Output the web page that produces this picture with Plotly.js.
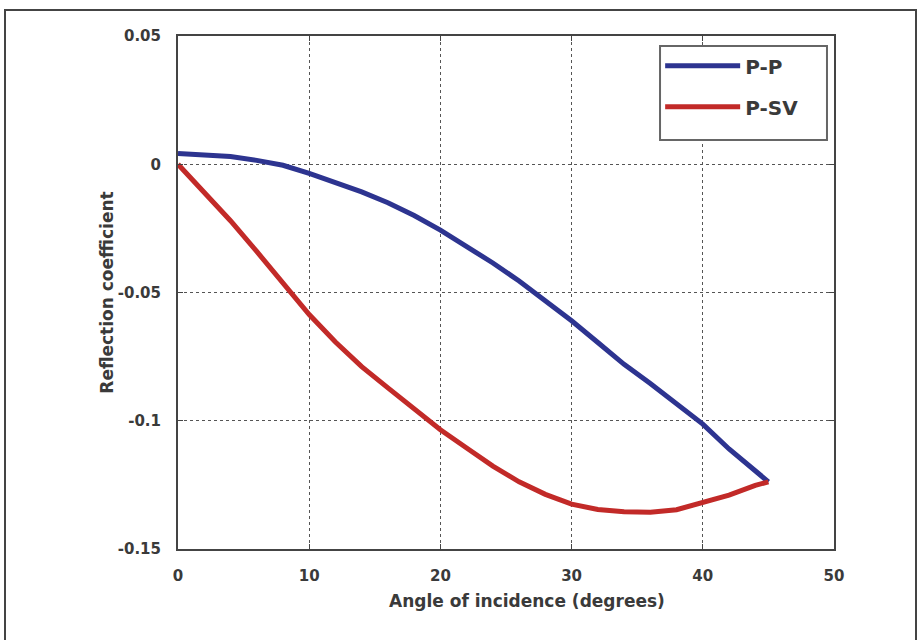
<!DOCTYPE html>
<html>
<head>
<meta charset="utf-8">
<script src="https://cdn.plot.ly/plotly-3.0.1.min.js"></script>
<style>
html,body{margin:0;padding:0;background:#fff;}
#wrap{position:relative;width:919px;height:640px;overflow:hidden;}
#chart{position:absolute;left:0;top:0;width:919px;height:640px;}
#frame{position:absolute;left:4px;top:9px;width:909px;height:700px;border:2px solid #444;pointer-events:none;}
</style>
</head>
<body>
<div id="wrap"><div id="chart"></div><div id="frame"></div></div>
<script>
// Angle of incidence (degrees)
const angles = [0, 2, 4, 6, 8, 10, 12, 14, 16, 18, 20, 22, 24, 26, 28, 30, 32, 34, 36, 38, 40, 42, 44, 45];
// P-P reflection coefficient
const ppValues = [0.0042, 0.0038, 0.003, 0.0015, -0.0004, -0.0036, -0.0072, -0.0108, -0.015, -0.02, -0.0257, -0.032, -0.0385, -0.0455, -0.053, -0.061, -0.0695, -0.078, -0.0855, -0.0933, -0.1013, -0.111, -0.1195, -0.1238];
// P-SV reflection coefficient
const psvValues = [0, -0.011, -0.022, -0.034, -0.0465, -0.0586, -0.0693, -0.0789, -0.0872, -0.0953, -0.1035, -0.1106, -0.1177, -0.1238, -0.1287, -0.1325, -0.1346, -0.1355, -0.1357, -0.1347, -0.132, -0.129, -0.1252, -0.1238];
const seriesNames = ["P-P", "P-SV"];
const xTickVals = [0, 10, 20, 30, 40, 50];
const xTickText = ["0", "10", "20", "30", "40", "50"];
const yTickVals = [0.05, 0, -0.05, -0.1, -0.15];
const yTickText = ["0.05", "0", "-0.05", "-0.1", "-0.15"];
const xTitle = 'Angle of incidence (degrees)';
const yTitle = 'Reflection coefficient';

const traces = [
  {x: angles, y: ppValues, name: seriesNames[0], type: 'scatter', mode: 'lines',
   line: {color: '#2d3490', width: 5}, legendgroup: 'a'},
  {x: angles, y: psvValues, name: seriesNames[1], type: 'scatter', mode: 'lines',
   line: {color: '#c22a28', width: 5}, legendgroup: 'b'}
];

const fam = 'DejaVu Sans, Verdana, sans-serif';
const tickFont = {family: fam, size: 15, color: '#3a3a3a', weight: 'bold'};
const titleFont = {family: fam, size: 17, color: '#3a3a3a', weight: 'bold'};

const layout = {
  width: 919, height: 640,
  margin: {l: 178, r: 85, t: 36, b: 91, pad: 0},
  paper_bgcolor: '#ffffff', plot_bgcolor: '#ffffff',
  showlegend: true,
  legend: {
    x: 0.735, y: 0.98, xanchor: 'left', yanchor: 'top',
    bgcolor: 'rgba(0,0,0,0)', borderwidth: 0,
    font: {family: fam, size: 20, color: '#3a3a3a', weight: 'bold'},
    traceorder: 'grouped', tracegroupgap: 12, itemwidth: 75, entrywidth: 167
  },
  shapes: [
    {type: 'rect', xref: 'paper', yref: 'paper', x0: 0.7348, x1: 0.9893, y0: 0.7973, y1: 0.9805,
     line: {color: '#666', width: 2}, fillcolor: '#ffffff', layer: 'above'}
  ],
  xaxis: {
    range: [0, 50], tickvals: xTickVals, ticktext: xTickText,
    showgrid: true, gridcolor: '#555', griddash: 'dot', gridwidth: 1.2,
    zeroline: false, showline: true, linecolor: '#444', linewidth: 2, mirror: 'ticks',
    ticks: 'inside', ticklen: 5, tickcolor: '#444', tickfont: tickFont, ticklabelstandoff: 12
  },
  yaxis: {
    range: [-0.15, 0.05], tickvals: yTickVals, ticktext: yTickText,
    showgrid: true, gridcolor: '#555', griddash: 'dot', gridwidth: 1.2,
    zeroline: false, showline: true, linecolor: '#444', linewidth: 2, mirror: 'ticks',
    ticks: 'inside', ticklen: 5, tickcolor: '#444', tickfont: tickFont, ticklabelstandoff: 12,
    title: {text: yTitle, font: titleFont, standoff: 0}
  },
  annotations: [
    {text: xTitle, xref: 'paper', yref: 'paper', x: 0.532, y: -0.102,
     xanchor: 'center', yanchor: 'middle', showarrow: false, font: titleFont}
  ]
};

Plotly.newPlot('chart', traces, layout, {displayModeBar: false, staticPlot: true});
</script>
</body>
</html>
